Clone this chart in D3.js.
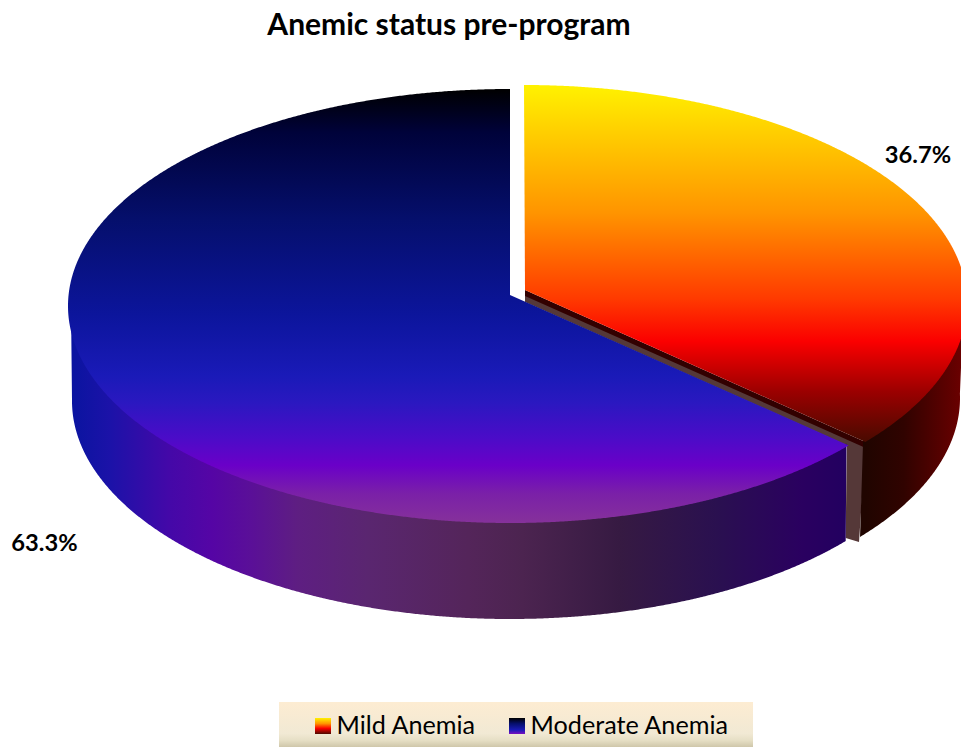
<!DOCTYPE html>
<html>
<head>
<meta charset="utf-8">
<script src="https://cdn.jsdelivr.net/npm/d3@7"></script>
<style>
html,body{margin:0;padding:0;background:#fff;overflow:hidden}
svg{display:block}
text{font-family:Lato,"Open Sans",sans-serif;fill:#000}
</style>
</head>
<body>
<svg id="chart" width="961" height="747"></svg>
<script>
const categories = ["Mild Anemia", "Moderate Anemia"];
const values = [36.7, 63.3];
const valueLabels = ["36.7%", "63.3%"];
const title = "Anemic status pre-program";

// vertical colour ramps for the top faces: [offset, colour]
const mildTopStops = [[0,"#fff200"],[0.12,"#ffd200"],[0.36,"#ff9400"],[0.6,"#ff3a00"],[0.72,"#fb0000"],[0.86,"#9c0000"],[1,"#4a0a00"]];
const moderateTopStops = [[0,"#000000"],[0.1,"#00023a"],[0.3,"#050f6c"],[0.52,"#0c159c"],[0.66,"#1a1ab8"],[0.72,"#2a18c0"],[0.8,"#4a0cc8"],[0.865,"#6a00c8"],[0.93,"#7a20a8"],[1,"#86329a"]];
// horizontal colour ramps for the outer walls
const moderateWallStops = [[0,"#0a14a0"],[0.05,"#1c12a8"],[0.125,"#4408a8"],[0.18,"#5505a5"],[0.23,"#5a0f98"],[0.29,"#5e1e82"],[0.38,"#5a2670"],[0.51,"#54255a"],[0.58,"#4c2450"],[0.705,"#361a42"],[0.83,"#2a1050"],[0.94,"#2a0060"],[1,"#220060"]];
const mildWallStops = [[0,"#200500"],[0.4,"#300300"],[1,"#6a0000"]];
const legendStops = [[0,"#fdecd2"],[0.7,"#f1e9d4"],[0.85,"#e6dfc5"],[1,"#cfc7aa"]];

const svg = d3.select("#chart");
const defs = svg.append("defs");

function ramp(id, stops, x1, y1, x2, y2) {
  const g = defs.append("linearGradient").attr("id", id)
    .attr("gradientUnits", "userSpaceOnUse")
    .attr("x1", x1).attr("y1", y1).attr("x2", x2).attr("y2", y2);
  g.selectAll("stop").data(stops).join("stop")
    .attr("offset", d => d[0]).attr("stop-color", d => d[1]);
  return `url(#${id})`;
}

// Pie angles, clockwise from twelve o'clock
const pie = d3.pie().sort(null).value(d => d)(values);
const [mild, moderate] = pie;

// Ellipse of each slice; the apex sits above the ellipse centre to give the tilted look
const depth = 95;
const modGeo = {cx:510, cy:306, rx:442, ry:217, ax:510, ay:295, brx:438, bry:218};
const mildGeo = {cx:524, cy:303, rx:443, ry:218, ax:525, ay:290, brx:436, bry:218};

// Angle on the ellipse hit by a ray leaving the apex at pie angle a
function rimAngle(g, a) {
  const dx = Math.sin(a) * g.rx, dy = -Math.cos(a) * g.ry, oy = g.ay - g.cy;
  const A = (dx/g.rx)**2 + (dy/g.ry)**2, B = 2*dy*oy/(g.ry*g.ry), C = (oy/g.ry)**2 - 1;
  const t = (-B + Math.sqrt(B*B - 4*A*C)) / (2*A);
  const angle = Math.atan2(dx*t/g.rx, -(dy*t+oy)/g.ry);
  return a > Math.PI && angle < Math.PI ? angle + 2*Math.PI : angle;
}
const topPt = (g, t) => [g.cx + g.rx*Math.sin(t), g.cy - g.ry*Math.cos(t)];
const botPt = (g, t) => [g.cx + g.brx*Math.sin(t), g.cy + depth - g.bry*Math.cos(t)];
// Rim pulled slightly inwards so a wall tucks under its top face with no seam
const tuckPt = (g, t) => [g.cx + (g.rx-3)*Math.sin(t), g.cy - (g.ry-3)*Math.cos(t)];
function sweep(a0, a1) {
  const n = Math.ceil(Math.abs(a1-a0) / 0.004);
  return d3.range(n+1).map(i => a0 + (a1-a0)*i/n);
}
const line = d3.line();

function topFace(g, a0, a1) {
  return line([[g.ax,g.ay], ...sweep(rimAngle(g,a0), rimAngle(g,a1)).map(t => topPt(g,t))]) + "Z";
}
function wall(g, t0, t1) {
  const s = sweep(t0, t1);
  return line([...s.map(t => tuckPt(g,t)), ...s.slice().reverse().map(t => botPt(g,t))]) + "Z";
}

const modEnd = rimAngle(modGeo, moderate.startAngle);
const mildEnd = rimAngle(mildGeo, mild.endAngle);
const modCorner = topPt(modGeo, modEnd), modFoot = botPt(modGeo, modEnd);
const mildCorner = topPt(mildGeo, mildEnd), mildFoot = botPt(mildGeo, mildEnd);

// Exposed cut face between the two slices
const mildApex = [mildGeo.ax, mildGeo.ay];
svg.append("path").attr("fill", "#553838")
  .attr("d", line([[mildApex[0], mildApex[1]+5], [mildCorner[0], mildCorner[1]+4],
    [mildFoot[0]-1, mildFoot[1]+5], [modFoot[0], modFoot[1]-3], [modCorner[0]-2, modCorner[1]],
    [modGeo.ax+15, modGeo.ay+7]]) + "Z");
svg.append("path").attr("fill", "#320000")
  .attr("d", line([mildApex, mildCorner, [mildCorner[0]-2, mildCorner[1]+5], [mildApex[0], mildApex[1]+6]]) + "Z");

// Outer walls
svg.append("path").attr("fill", ramp("modWall", moderateWallStops, 72, 0, 849, 0))
  .attr("d", wall(modGeo, modEnd, 1.5*Math.PI));
svg.append("path").attr("fill", ramp("mildWall", mildWallStops, mildCorner[0], 0, 961, 0))
  .attr("d", wall(mildGeo, Math.PI/2 - 0.02, mildEnd));

// Top faces
svg.append("path").attr("fill", ramp("modTop", moderateTopStops, 0, 89, 0, 524))
  .attr("d", topFace(modGeo, moderate.startAngle, moderate.endAngle));
svg.append("path").attr("fill", ramp("mildTop", mildTopStops, 0, 85, 0, 441))
  .attr("d", topFace(mildGeo, mild.startAngle, mild.endAngle));

// Title and value labels
svg.append("text").attr("x", 449).attr("y", 35).attr("text-anchor", "middle")
  .attr("font-size", 30).attr("font-weight", 700).text(title);
svg.selectAll(".value").data(valueLabels).join("text").attr("class", "value")
  .attr("x", (d,i) => i ? 44.5 : 918).attr("y", (d,i) => i ? 551 : 163)
  .attr("text-anchor", "middle").attr("font-size", 23.7).attr("font-weight", 700).text(d => d);

// Legend
const legend = svg.append("g");
legend.append("rect").attr("x", 279).attr("y", 702).attr("width", 474).attr("height", 45)
  .attr("fill", ramp("legendBg", legendStops, 0, 702, 0, 747));
const swatchGrads = [
  ramp("swMild", [[0,"#fff200"],[0.35,"#ff9400"],[0.65,"#fb0000"],[1,"#4a0a00"]], 0, 718, 0, 734),
  ramp("swMod", [[0,"#000000"],[0.35,"#050f6c"],[0.75,"#1a1ab8"],[1,"#7a10c0"]], 0, 718, 0, 734)
];
const legendScale = d3.scaleOrdinal().domain(categories).range([315, 509]);
const item = legend.selectAll(".item").data(categories).join("g").attr("class", "item");
item.append("rect").attr("x", d => legendScale(d)).attr("y", 718)
  .attr("width", 16).attr("height", 16).attr("fill", (d,i) => swatchGrads[i]);
item.append("text").attr("x", d => legendScale(d) + 21.5).attr("y", 734)
  .attr("font-size", 25.2).text(d => d);
</script>
</body>
</html>
